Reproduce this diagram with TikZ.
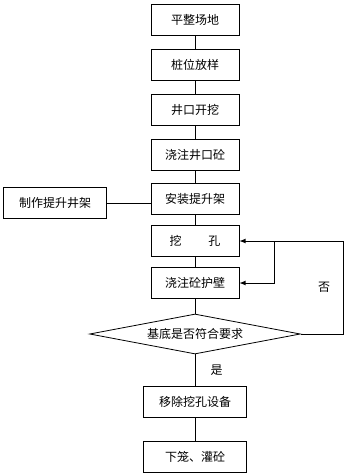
\documentclass[tikz,border=0pt]{standalone}
\usepackage{fontspec}
\newfontfamily\cjk{Noto Sans CJK SC}
\usetikzlibrary{shapes.geometric,arrows}
\begin{document}
\begin{tikzpicture}[x=0.75pt,y=-0.75pt,node distance=33.75pt,every node/.style={font=\cjk\fontsize{9}{10}\selectfont}]
\tikzstyle{stepbox}=[draw,line width=0.6pt,minimum width=66pt,minimum height=23.5pt,inner sep=1pt]
\tikzstyle{widebox}=[stepbox,minimum width=77pt]
\tikzstyle{decision}=[draw,line width=0.6pt,diamond,aspect=5.3,minimum width=158pt,minimum height=30pt,inner sep=0pt]
\tikzstyle{arrow}=[draw,line width=0.6pt,-latex]
\useasboundingbox (0,0) rectangle (350,474);
\node[stepbox](n0) at (195,20){平整场地};
\node[stepbox,below of=n0](n1){桩位放样};
\node[stepbox,below of=n1](n2){井口开挖};
\node[stepbox,below of=n2](n3){浇注井口砼};
\node[stepbox,below of=n3,node distance=33pt](n4){安装提升架};
\node[stepbox,below of=n4,node distance=31.5pt](n5){挖\hspace{20pt}孔};
\node[stepbox,below of=n5,node distance=31.5pt](n6){浇注砼护壁};
\node[decision,below of=n6,node distance=38.25pt](n7){基底是否符合要求};
\node[widebox,below of=n7,node distance=51pt](n8){移除挖孔设备};
\node[widebox,below of=n8,node distance=41.25pt](n9){下笼、灌砼};

\node[widebox,left of=n4,node distance=105pt,yshift=-3pt](m4){制作提升井架};

\coordinate(r0) at (343,241);
\coordinate(r1) at (274,241);

\draw[line width=0.6pt](n0)--(n1)--(n2)--(n3)--(n4)--(n5)--(n6)--(n7);
\draw[line width=0.6pt](n7)--node[right,xshift=8pt]{是}(n8)--(n9);
\draw[line width=0.6pt](m4.east)--(m4.east-|n4.west);
\path[arrow](n7.east)-|node[pos=0.75,left,xshift=-6pt]{否}(r0)--(n5.east);
\path[arrow](r1)|-(n6.east);
\end{tikzpicture}
\end{document}
